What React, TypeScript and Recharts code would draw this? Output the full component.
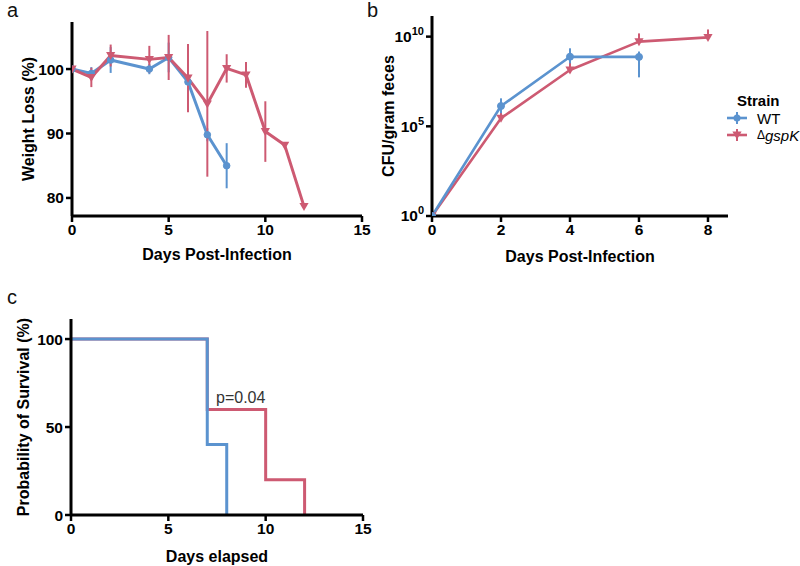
import React from 'react';
import { LineChart, Line, XAxis, YAxis, ErrorBar, Label, ReferenceDot } from 'recharts';

const BLUE = '#5b93cf';
const RED = '#cd5a72';
const FONT = '"Liberation Sans", Arial, Helvetica, sans-serif';

// panel a - weight (% of starting weight)
const weightDaysWT = [0, 1, 2, 4, 5, 6, 7, 8];
const weightWT = [100, 99.3, 101.4, 100, 101.8, 98, 89.8, 85];
const weightErrWT = [0.4, 1, 2, 0.8, 2.3, 4, 1, 3.5];
const weightDaysKO = [0, 1, 2, 4, 5, 6, 7, 8, 9, 10, 11, 12];
const weightKO = [100, 98.7, 102.1, 101.5, 101.8, 98.6, 94.6, 100.1, 99.1, 90.3, 88.2, 78.7];
const weightErrKO = [0.5, 1.5, 1.7, 2.1, 3.5, 5.3, 11.3, 2.2, 2, 4.7, 0, 0];

// panel b - log10 CFU per gram feces, errors as [below, above] in decades
const cfuDaysWT = [0, 2, 4, 6];
const cfuLogWT = [0, 6.13, 8.88, 8.87];
const cfuErrWT = [[0, 0], [0.4, 0.43], [0.37, 0.47], [1.14, 0.3]];
const cfuDaysKO = [0, 2, 4, 6, 8];
const cfuLogKO = [0, 5.45, 8.14, 9.72, 9.96];
const cfuErrKO = [[0, 0], [0, 0.55], [0, 0.83], [0, 0.46], [0, 0.44]];

// panel c - survival (%)
const survDaysWT = [0, 7, 8];
const survWT = [100, 40, 0];
const survDaysKO = [0, 7, 10, 12];
const survKO = [100, 60, 20, 0];

const strains = [
  { name: 'WT', color: BLUE, marker: 'circle' },
  { name: 'gspK', color: RED, marker: 'triangle' },
];

const rows = (xs: number[], ys: number[], errs?: any[]) =>
  xs.map((x, i) => ({ day: x, value: ys[i], err: errs ? errs[i] : 0 }));

const tickStyle = { fill: '#000', fontSize: 15.5, fontWeight: 700, fontFamily: FONT };
const axisLine = { stroke: '#000', strokeWidth: 3 };
const tickLine = { stroke: '#000', strokeWidth: 2.5 };

const TriangleDown = (props: any) => {
  const { cx, cy, color } = props;
  if (cx == null || cy == null) return <g />;
  const s = 4.6;
  return <path d={`M${cx - s},${cy - s * 0.75} L${cx + s},${cy - s * 0.75} L${cx},${cy + s} Z`} fill={color} />;
};

const VTitle = (props: any) => {
  const { viewBox, text, left } = props;
  const cy = viewBox.y + viewBox.height / 2;
  return (
    <text x={left} y={cy} transform={`rotate(-90 ${left} ${cy})`} textAnchor="middle" dominantBaseline="central"
      fontSize={16} fontWeight={700} fontFamily={FONT} fill="#000">{text}</text>
  );
};

const HTitle = (props: any) => {
  const { viewBox, text, top } = props;
  return (
    <text x={viewBox.x + viewBox.width / 2} y={top} textAnchor="middle" dominantBaseline="central"
      fontSize={16} fontWeight={700} fontFamily={FONT} fill="#000">{text}</text>
  );
};

const PowerTick = (props: any) => {
  const { x, y, payload } = props;
  return (
    <text x={x} y={y} textAnchor="end" fontWeight={700} fontFamily={FONT} fill="#000">
      <tspan dy="0.35em" fontSize={15.5}>10</tspan>
      <tspan dy={-7} fontSize={11}>{payload.value}</tspan>
    </text>
  );
};

const PText = (props: any) => {
  const { viewBox } = props;
  return (
    <text x={viewBox.x} y={viewBox.y} dominantBaseline="central" fontSize={16} fontFamily={FONT} fill="#333">p=0.04</text>
  );
};

const panelLetter = (left: number, top: number): React.CSSProperties => ({
  position: 'absolute', left, top, fontSize: 20, fontFamily: FONT, lineHeight: '20px', color: '#111',
});

const App = () => {
  return (
    <div style={{ position: 'absolute', left: 0, top: 0, width: 800, height: 566, background: '#fff', fontFamily: FONT }}>
      <div style={panelLetter(7, 0)}>a</div>
      <div style={panelLetter(367, 0)}>b</div>
      <div style={panelLetter(7, 287)}>c</div>

      {/* a: weight loss */}
      <div style={{ position: 'absolute', left: 0, top: 0 }}>
        <LineChart width={380} height={270} margin={{ top: 22, right: 18, bottom: 14, left: 12 }}>
          <XAxis dataKey="day" type="number" domain={[0, 15]} ticks={[0, 5, 10, 15]} interval={0} height={40}
            axisLine={axisLine} tickLine={tickLine} tickSize={6} tick={tickStyle} allowDataOverflow>
            <Label content={<HTitle text="Days Post-Infection" top={254} />} />
          </XAxis>
          <YAxis type="number" domain={[77.2, 107.3]} ticks={[80, 90, 100]} interval={0} width={60}
            axisLine={axisLine} tickLine={tickLine} tickSize={6} tick={tickStyle} allowDataOverflow>
            <Label content={<VTitle text="Weight Loss (%)" left={28} />} />
          </YAxis>
          <Line data={rows(weightDaysWT, weightWT, weightErrWT)} dataKey="value" stroke={BLUE} strokeWidth={3}
            strokeLinejoin="round" dot={{ r: 3.3, fill: BLUE, stroke: BLUE, strokeWidth: 1 }} isAnimationActive={false}>
            <ErrorBar dataKey="err" width={0} stroke={BLUE} strokeWidth={2} direction="y" />
          </Line>
          <Line data={rows(weightDaysKO, weightKO, weightErrKO)} dataKey="value" stroke={RED} strokeWidth={3}
            strokeLinejoin="round" dot={<TriangleDown color={RED} />} isAnimationActive={false}>
            <ErrorBar dataKey="err" width={0} stroke={RED} strokeWidth={2} direction="y" />
          </Line>
        </LineChart>
      </div>

      {/* b: CFU in feces */}
      <div style={{ position: 'absolute', left: 380, top: 0 }}>
        <LineChart width={420} height={270} margin={{ top: 16, right: 72, bottom: 14, left: 6 }}>
          <XAxis dataKey="day" type="number" domain={[0, 8.58]} ticks={[0, 2, 4, 6, 8]} interval={0} height={40}
            axisLine={axisLine} tickLine={tickLine} tickSize={6} tick={tickStyle} allowDataOverflow>
            <Label content={<HTitle text="Days Post-Infection" top={256} />} />
          </XAxis>
          <YAxis type="number" domain={[0, 11.15]} ticks={[0, 5, 10]} interval={0} width={46}
            axisLine={axisLine} tickLine={tickLine} tickSize={6} tick={<PowerTick />} allowDataOverflow>
            <Label content={<VTitle text="CFU/gram feces" left={8} />} />
          </YAxis>
          <Line data={rows(cfuDaysKO, cfuLogKO, cfuErrKO)} dataKey="value" stroke={RED} strokeWidth={2.6}
            strokeLinejoin="round" dot={<TriangleDown color={RED} />} isAnimationActive={false}>
            <ErrorBar dataKey="err" width={0} stroke={RED} strokeWidth={2} direction="y" />
          </Line>
          <Line data={rows(cfuDaysWT, cfuLogWT, cfuErrWT)} dataKey="value" stroke={BLUE} strokeWidth={2.6}
            strokeLinejoin="round" dot={{ r: 3.5, fill: BLUE, stroke: BLUE, strokeWidth: 1 }} isAnimationActive={false}>
            <ErrorBar dataKey="err" width={0} stroke={BLUE} strokeWidth={2} direction="y" />
          </Line>
        </LineChart>
      </div>

      {/* legend */}
      <svg style={{ position: 'absolute', left: 722, top: 86 }} width={78} height={60}>
        <text x={15} y={14} dominantBaseline="central" fontSize={15} fontWeight={700} fontFamily={FONT} fill="#000">Strain</text>
        {strains.map((s, i) => {
          const cy = 32 + i * 17;
          return (
            <g key={s.name}>
              <line x1={5} x2={25} y1={cy} y2={cy} stroke={s.color} strokeWidth={2.6} />
              <line x1={15} x2={15} y1={cy - 6} y2={cy + 6} stroke={s.color} strokeWidth={2} />
              {s.marker === 'circle'
                ? <circle cx={15} cy={cy} r={3.5} fill={s.color} />
                : <TriangleDown cx={15} cy={cy} color={s.color} />}
              <text x={35} y={cy} dominantBaseline="central" fontSize={15} fontFamily={FONT} fill="#000">
                {s.marker === 'circle' ? s.name : <><tspan fontSize={12}>Δ</tspan><tspan fontStyle="italic">{s.name}</tspan></>}
              </text>
            </g>
          );
        })}
      </svg>

      {/* c: survival */}
      <div style={{ position: 'absolute', left: 0, top: 280 }}>
        <LineChart width={380} height={286} margin={{ top: 39, right: 17, bottom: 11, left: 11 }}>
          <XAxis dataKey="day" type="number" domain={[0, 15]} ticks={[0, 5, 10, 15]} interval={0} height={40}
            axisLine={axisLine} tickLine={tickLine} tickSize={6} tick={tickStyle} allowDataOverflow>
            <Label content={<HTitle text="Days elapsed" top={276} />} />
          </XAxis>
          <YAxis type="number" domain={[0, 111.4]} ticks={[0, 50, 100]} interval={0} width={60}
            axisLine={axisLine} tickLine={tickLine} tickSize={6} tick={tickStyle} allowDataOverflow>
            <Label content={<VTitle text="Probability of Survival (%)" left={23} />} />
          </YAxis>
          <Line data={rows(survDaysKO, survKO)} dataKey="value" type="stepAfter" stroke={RED} strokeWidth={3}
            dot={false} isAnimationActive={false} />
          <Line data={rows(survDaysWT, survWT)} dataKey="value" type="stepAfter" stroke={BLUE} strokeWidth={3}
            dot={false} isAnimationActive={false} />
          <ReferenceDot x={7.45} y={66.5} r={0} fill="none" stroke="none" label={<PText />} />
        </LineChart>
      </div>
    </div>
  );
};

export default App;
